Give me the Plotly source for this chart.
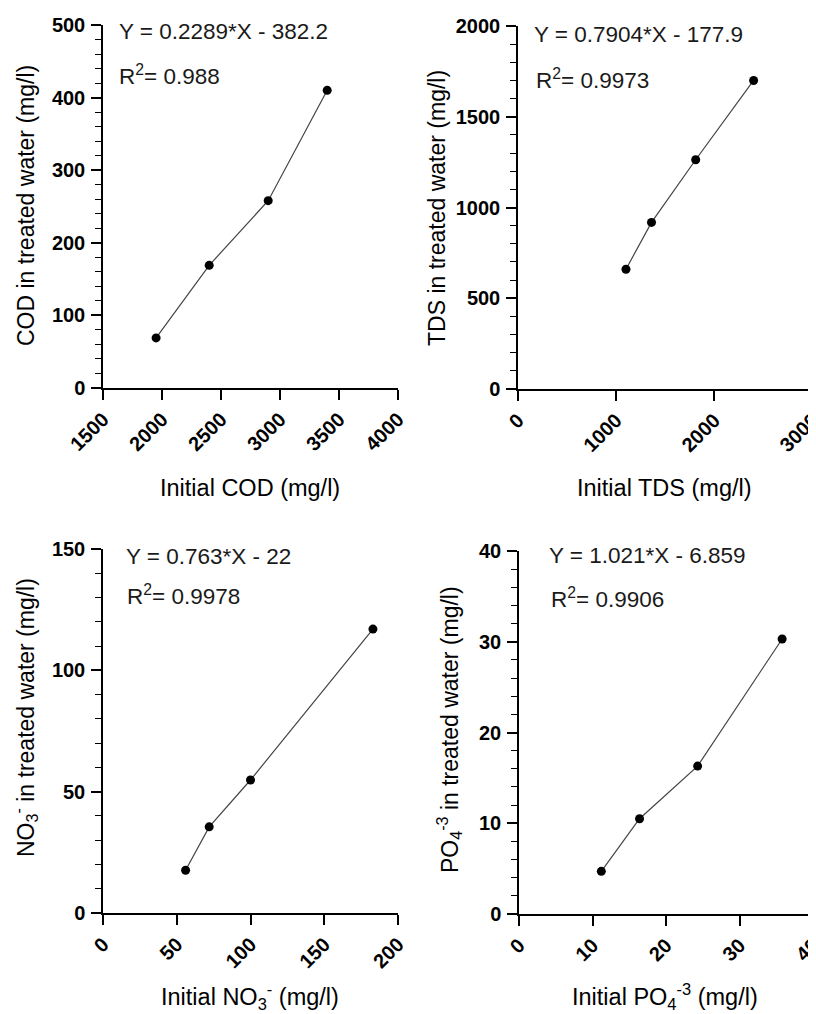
import plotly.graph_objects as go

# ---- data ----
cod_initial = [1950, 2400, 2900, 3400]
cod_treated = [69, 169, 258, 410]
tds_initial = [1100, 1360, 1810, 2400]
tds_treated = [660, 918, 1263, 1700]
no3_initial = [56, 72, 100, 183]
no3_treated = [17.6, 35.5, 54.8, 117]
po4_initial = [11.2, 16.4, 24.3, 35.8]
po4_treated = [4.7, 10.5, 16.3, 30.3]

equations = ["Y = 0.2289*X - 382.2", "Y = 0.7904*X - 177.9", "Y = 0.763*X - 22", "Y = 1.021*X - 6.859"]
r2_values = ["0.988", "0.9973", "0.9978", "0.9906"]

x_titles = ["Initial COD (mg/l)", "Initial TDS (mg/l)",
            "Initial NO<sub>3</sub><sup>-</sup> (mg/l)", "Initial PO<sub>4</sub><sup>-3</sup> (mg/l)"]
y_titles = ["COD in treated water (mg/l)", "TDS in treated water (mg/l)",
            "NO<sub>3</sub><sup>-</sup> in treated water (mg/l)",
            "PO<sub>4</sub><sup>-3</sup> in treated water (mg/l)"]

x_ranges = [[1500, 4000], [0, 3000], [0, 200], [0, 40]]
x_dticks = [500, 1000, 50, 10]
y_ranges = [[0, 500], [0, 2000], [0, 150], [0, 40]]
y_dticks = [100, 500, 50, 10]
y_minor = [20, 100, 10, 2]

# page offset (browser body margin) and figure size
OFF = 8
W, H = 816 - OFF, 1014 - OFF
# plot-area pixel boxes in page coordinates: (left, right, top, bottom)
boxes = [(103, 398, 25, 388), (518, 812.5, 26, 389), (103, 398, 549, 913), (519, 813, 551, 914)]
# text positions in page pixels
eq_pos = [(117, 31), (532, 35), (124, 556), (547, 555)]
r_pos = [(117, 75), (534, 79), (125, 595), (549, 598)]
xt_pos = [(250, 488), (664, 488), (250, 996), (665, 996)]
yt_pos = [(26, 206), (437, 208), (25, 718), (449, 730)]

FONT = "Liberation Sans, Arial, sans-serif"

def px(x):
    return (x - OFF) / W

def py(y):
    return 1 - (y - OFF) / H

xs = [cod_initial, tds_initial, no3_initial, po4_initial]
ys = [cod_treated, tds_treated, no3_treated, po4_treated]

fig = go.Figure()
layout = dict(width=W, height=H, margin=dict(l=0, r=0, t=0, b=0, autoexpand=False),
              template="none",
              paper_bgcolor="white", plot_bgcolor="white", showlegend=False,
              font=dict(family=FONT, color="black"))
annotations = []

for i in range(4):
    k = "" if i == 0 else str(i + 1)
    fig.add_trace(go.Scatter(x=xs[i], y=ys[i], mode="lines+markers",
                             line=dict(color="#444444", width=1.2),
                             marker=dict(color="black", size=9),
                             xaxis="x" + k, yaxis="y" + k))
    l, r, t, b = boxes[i]
    layout["xaxis" + k] = dict(
        domain=[px(l), px(r)], range=x_ranges[i], dtick=x_dticks[i], tick0=0,
        showline=True, linecolor="black", linewidth=1.5, showgrid=False, zeroline=False,
        ticks="outside", ticklen=10, tickwidth=1.5, tickcolor="black",
        tickangle=-45, tickfont=dict(family=FONT, size=20, weight="bold", color="black"),
        ticklabeloverflow="allow",
        anchor="y" + k, fixedrange=True, automargin=False)
    layout["yaxis" + k] = dict(
        domain=[py(b), py(t)], range=y_ranges[i], dtick=y_dticks[i], tick0=0,
        showline=True, linecolor="black", linewidth=1.5, showgrid=False, zeroline=False,
        ticks="outside", ticklen=10, tickwidth=1.5, tickcolor="black",
        ticklabelstandoff=2, ticklabeloverflow="allow",
        minor=dict(dtick=y_minor[i], tick0=0, ticks="outside", ticklen=6, tickwidth=1.2,
                   tickcolor="black", showgrid=False),
        tickfont=dict(family=FONT, size=20, weight="bold", color="black"),
        anchor="x" + k, fixedrange=True, automargin=False)

    annotations.append(dict(text=equations[i], x=px(eq_pos[i][0]), y=py(eq_pos[i][1]),
                            xref="paper", yref="paper", xanchor="left", yanchor="middle",
                            showarrow=False, font=dict(size=22.5, color="#1a1a1a", family=FONT)))
    annotations.append(dict(text="R<sup>2</sup>= " + r2_values[i], x=px(r_pos[i][0]), y=py(r_pos[i][1]),
                            xref="paper", yref="paper", xanchor="left", yanchor="middle",
                            showarrow=False, font=dict(size=22.5, color="#1a1a1a", family=FONT)))
    annotations.append(dict(text=x_titles[i], x=px(xt_pos[i][0]), y=py(xt_pos[i][1]),
                            xref="paper", yref="paper", xanchor="center", yanchor="middle",
                            showarrow=False, font=dict(size=23.5, color="black", family=FONT)))
    annotations.append(dict(text=y_titles[i], x=px(yt_pos[i][0]), y=py(yt_pos[i][1]),
                            xref="paper", yref="paper", xanchor="center", yanchor="middle",
                            textangle=-90, showarrow=False,
                            font=dict(size=23, color="black", family=FONT)))

layout["annotations"] = annotations
fig.update_layout(**layout)
fig.write_html("out.html")
